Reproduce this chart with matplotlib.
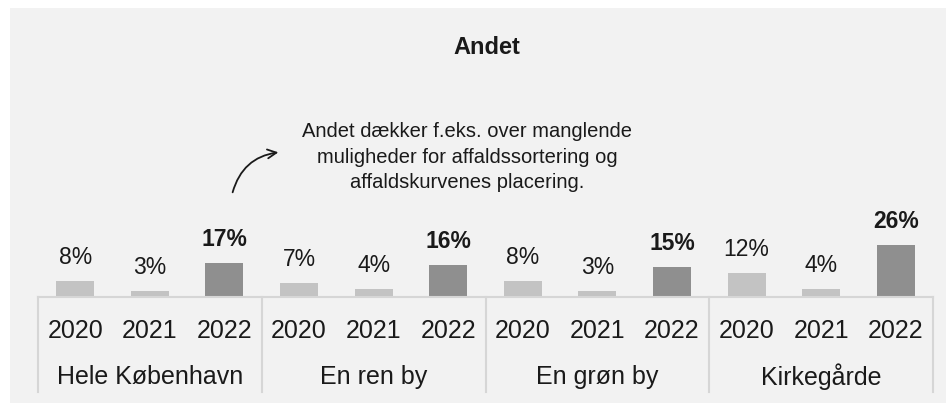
import matplotlib
matplotlib.use("Agg")
import matplotlib.pyplot as plt
from matplotlib.patches import Rectangle
from matplotlib.transforms import blended_transform_factory
import numpy as np

# ---- data ----
groups = ["Hele København", "En ren by", "En grøn by", "Kirkegårde"]
years = ["2020", "2021", "2022"]
v2020 = [8, 7, 8, 12]
v2021 = [3, 4, 3, 4]
v2022 = [17, 16, 15, 26]
title = "Andet"
note = "Andet dækker f.eks. over manglende\nmuligheder for affaldssortering og\naffaldskurvenes placering."

FONT = ["Liberation Sans", "DejaVu Sans"]
plt.rcParams["font.family"] = FONT
TXT = "#1a1a1a"
LIGHT = "#c3c3c3"
DARK = "#8f8f8f"
LINE = "#d6d6d6"

W, H = 946, 403
fig = plt.figure(figsize=(W / 100, H / 100), dpi=100)
fig.patch.set_facecolor("white")
fig.patches.append(Rectangle((10 / W, 0), 1.1, (H - 8) / H, transform=fig.transFigure,
                             facecolor="#f2f2f2", edgecolor="none", zorder=-10))

ax = fig.add_axes([38 / W, 106 / H, 895 / W, 237 / H])
ax.set_facecolor("none")

vals = []
cols = []
labels = []
for g in range(len(groups)):
    for i, arr in enumerate([v2020, v2021, v2022]):
        vals.append(arr[g])
        cols.append(DARK if i == 2 else LIGHT)
        labels.append(years[i])
x = np.arange(len(vals))
bars = ax.bar(x, vals, width=0.51, color=cols, zorder=2)

for k, (b, v) in enumerate(zip(bars, vals)):
    bold = (k % 3 == 2)
    ax.annotate(f"{v}%", (b.get_x() + b.get_width() / 2, v), xytext=(0, 9),
                textcoords="offset points", ha="center", va="bottom",
                fontsize=16.5 if not bold else 16.5, color=TXT,
                fontweight="bold" if bold else "normal")

ax.set_xlim(-0.5, len(vals) - 0.5)
ax.set_ylim(0, 118.5)
for s in ["top", "right", "left"]:
    ax.spines[s].set_visible(False)
ax.spines["bottom"].set_color(LINE)
ax.spines["bottom"].set_linewidth(1.5)
ax.set_yticks([])
ax.set_xticks(x)
ax.set_xticklabels(labels, fontsize=18, color=TXT)
ax.tick_params(axis="x", length=0, pad=16)

trans = blended_transform_factory(ax.transData, ax.transAxes)
nper = len(years)
for g in range(len(groups) + 1):
    xs = g * nper - 0.5
    ax.plot([xs, xs], [0, -95 / 237], transform=trans, color=LINE, lw=1.5,
            clip_on=False, zorder=1)
for g, name in enumerate(groups):
    ax.text(g * nper + (nper - 1) / 2, -80 / 237, name, transform=trans,
            ha="center", va="center", fontsize=18, color=TXT)

fig.text(487 / W, (H - 47) / H, title, ha="center", va="center",
         fontsize=17, fontweight="bold", color=TXT)

ax.text(5.25, 70, note, ha="center", va="center", fontsize=14.5, color=TXT,
        linespacing=1.42)
ax.annotate("", xy=(2.76, 72.5), xytext=(2.1, 51),
            arrowprops=dict(arrowstyle="->", connectionstyle="arc3,rad=-0.35",
                            color=TXT, lw=1.3, mutation_scale=16))

fig.savefig("out.png", dpi=100, facecolor=fig.get_facecolor())
